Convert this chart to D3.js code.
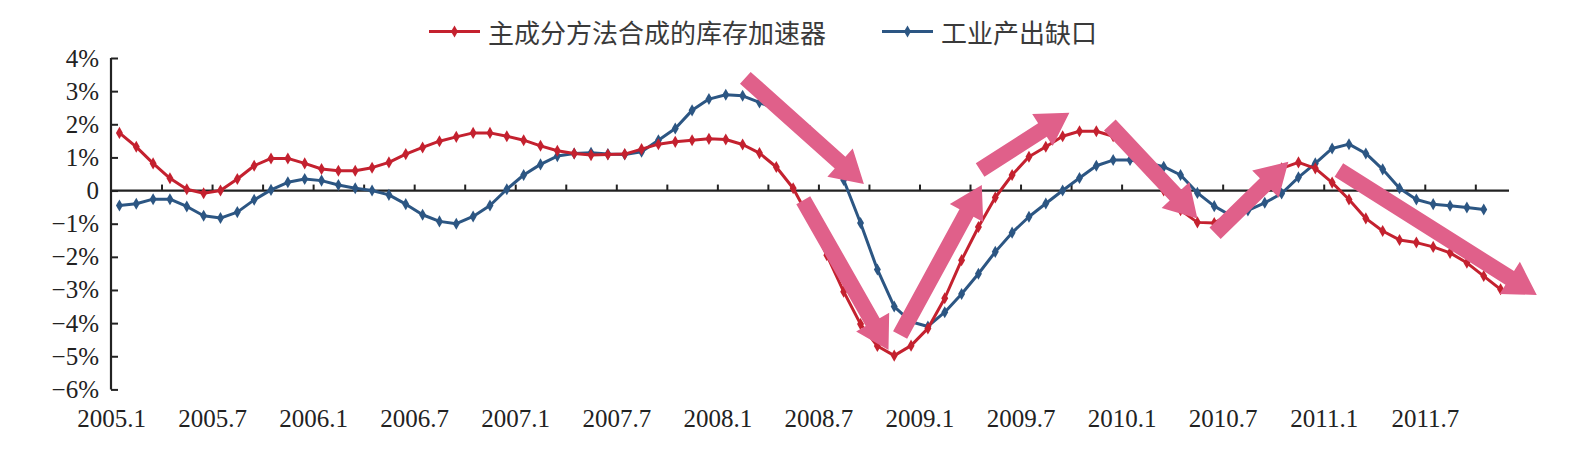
<!DOCTYPE html>
<html><head><meta charset="utf-8">
<script src="https://cdn.jsdelivr.net/npm/d3@7"></script>
<style>
html,body{margin:0;padding:0;background:#fff;}
svg{display:block;}
</style></head>
<body><svg id="c" width="1586" height="459"></svg>
<script>
// ---- data ----
const seriesNames = ["主成分方法合成的库存加速器", "工业产出缺口"];
const xLabels = ["2005.1","2005.7","2006.1","2006.7","2007.1","2007.7","2008.1","2008.7","2009.1","2009.7","2010.1","2010.7","2011.1","2011.7"];
const yTicks = [4,3,2,1,0,-1,-2,-3,-4,-5,-6];
// monthly, 2005.1 - 2011.11
const inventoryAccel = [1.74,1.32,0.82,0.37,0.04,-0.08,0.00,0.35,0.75,0.97,0.97,0.82,0.65,0.60,0.60,0.69,0.85,1.10,1.30,1.49,1.62,1.74,1.74,1.64,1.52,1.35,1.20,1.12,1.07,1.09,1.10,1.25,1.40,1.47,1.52,1.56,1.54,1.39,1.13,0.71,0.07,-0.87,-1.95,-3.05,-4.03,-4.69,-4.98,-4.68,-4.16,-3.25,-2.10,-1.10,-0.21,0.47,1.02,1.32,1.64,1.79,1.79,1.64,1.22,0.64,0.00,-0.59,-0.96,-0.98,-0.69,-0.27,0.24,0.67,0.85,0.67,0.24,-0.27,-0.84,-1.22,-1.49,-1.57,-1.70,-1.88,-2.18,-2.58,-2.98];
// monthly, 2005.1 - 2011.10
const outputGap = [-0.45,-0.40,-0.26,-0.26,-0.48,-0.76,-0.83,-0.65,-0.28,0.02,0.25,0.35,0.30,0.17,0.07,0.00,-0.13,-0.41,-0.73,-0.93,-1.00,-0.78,-0.45,0.04,0.47,0.79,1.04,1.12,1.14,1.10,1.09,1.17,1.52,1.87,2.42,2.76,2.89,2.86,2.66,2.45,2.17,1.80,1.27,0.32,-0.98,-2.38,-3.50,-3.96,-4.10,-3.67,-3.12,-2.51,-1.85,-1.27,-0.79,-0.39,0.00,0.38,0.75,0.92,0.92,0.84,0.72,0.47,-0.07,-0.47,-0.76,-0.60,-0.37,-0.09,0.40,0.82,1.27,1.40,1.12,0.64,0.07,-0.27,-0.41,-0.46,-0.51,-0.57];
// annotation arrows: [startMonth, startValue, endMonth, endValue]
const arrowStartX = [37.66, 41.1, 46.85, 51.6, 59.3, 65.55, 72.9];
const arrowStartY = [3.40, -0.29, -4.36, 0.62, 1.98, -1.29, 0.62];
const arrowEndX   = [44.7, 46.16, 51.7, 56.9, 64.5, 69.9, 84.65];
const arrowEndY   = [0.20, -4.81, 0.17, 2.35, -0.84, 0.87, -3.15];

// ---- chart ----
const svg = d3.select("#c");
const nCat = 83;
const x = d3.scaleLinear().domain([0, nCat]).range([111, 1509]);
const y = d3.scaleLinear().domain([-6, 4]).range([389.4, 58]);
const red = "#c4212f", blue = "#2c5683", pink = "#e0608a";
const fmt = v => v === 0 ? "0" : (v < 0 ? "\u2212" + (-v) : v) + "%";
const tickFont = "'Liberation Serif', 'Times New Roman', serif";

// y axis
const ya = svg.append("g").attr("transform", `translate(${x(0)},0)`)
  .call(d3.axisLeft(y).tickValues(yTicks).tickSize(-7).tickPadding(12).tickFormat(fmt));
ya.select(".domain").attr("stroke", "#222").attr("stroke-width", 2.2).attr("d", `M0,${y(4)}V${y(-6)}`);
ya.selectAll(".tick line").attr("stroke", "#222").attr("stroke-width", 2);
ya.selectAll("text").attr("font-family", tickFont).attr("font-size", 25).attr("fill", "#222");

// x axis at zero (ticks every 3 months, pointing up)
const tickB = d3.range(3, nCat + 1, 3).filter(b => b < nCat);
const xa = svg.append("g").attr("transform", `translate(0,${y(0)})`)
  .call(d3.axisBottom(x).tickValues(tickB).tickSize(-6).tickFormat(""));
xa.select(".domain").attr("stroke", "#222").attr("stroke-width", 2.2).attr("d", `M${x(0)},0H${x(nCat)}`);
xa.selectAll(".tick line").attr("stroke", "#222").attr("stroke-width", 2);

// x labels
const labB = xLabels.map((d, i) => i * 6);
const xl = svg.append("g").attr("transform", `translate(0,${y(-6)})`)
  .call(d3.axisBottom(x).tickValues(labB).tickSize(0).tickPadding(20).tickFormat((d, i) => xLabels[i]));
xl.select(".domain").remove();
xl.selectAll("text").attr("font-family", tickFont).attr("font-size", 25).attr("fill", "#222");

// lines
const line = d3.line().x((d, i) => x(i + 0.5)).y(d => y(d));
const diamond = d3.symbol().type(d3.symbolDiamond).size(42);
function drawSeries(data, color) {
  const g = svg.append("g");
  g.append("path").datum(data).attr("d", line).attr("fill", "none")
    .attr("stroke", color).attr("stroke-width", 3).attr("stroke-linejoin", "round");
  g.selectAll("path.m").data(data).enter().append("path").attr("class", "m")
    .attr("d", diamond).attr("fill", color)
    .attr("transform", (d, i) => `translate(${x(i + 0.5)},${y(d)})`);
}
drawSeries(outputGap, blue);
drawSeries(inventoryAccel, red);

// arrows
const ag = svg.append("g");
arrowStartX.forEach((sx, k) => {
  const x0 = x(sx), y0 = y(arrowStartY[k]), x1 = x(arrowEndX[k]), y1 = y(arrowEndY[k]);
  const dx = x1 - x0, dy = y1 - y0, L = Math.hypot(dx, dy);
  const ux = dx / L, uy = dy / L, nx = -uy, ny = ux;
  const sw = 8, hw = 19, hl = 32;
  const bx = x1 - ux * hl, by = y1 - uy * hl;
  const pts = [
    [x0 + nx * sw, y0 + ny * sw], [bx + nx * sw, by + ny * sw], [bx + nx * hw, by + ny * hw],
    [x1, y1], [bx - nx * hw, by - ny * hw], [bx - nx * sw, by - ny * sw], [x0 - nx * sw, y0 - ny * sw]
  ];
  ag.append("path").attr("d", "M" + pts.map(p => p.join(",")).join("L") + "Z").attr("fill", pink);
});

// legend
const lg = svg.append("g");
const legItems = [{x: 429, color: red, name: seriesNames[0]}, {x: 882, color: blue, name: seriesNames[1]}];
legItems.forEach(it => {
  lg.append("line").attr("x1", it.x).attr("x2", it.x + 51).attr("y1", 31.5).attr("y2", 31.5)
    .attr("stroke", it.color).attr("stroke-width", 3);
  lg.append("path").attr("d", diamond).attr("fill", it.color).attr("transform", `translate(${it.x + 25.5},31.5)`);
  lg.append("text").attr("x", it.x + 59).attr("y", 31.5).attr("dominant-baseline", "central")
    .attr("font-family", "'Noto Sans CJK SC', sans-serif").attr("font-size", 26).attr("fill", "#3a3a3a")
    .text(it.name);
});
</script></body></html>
